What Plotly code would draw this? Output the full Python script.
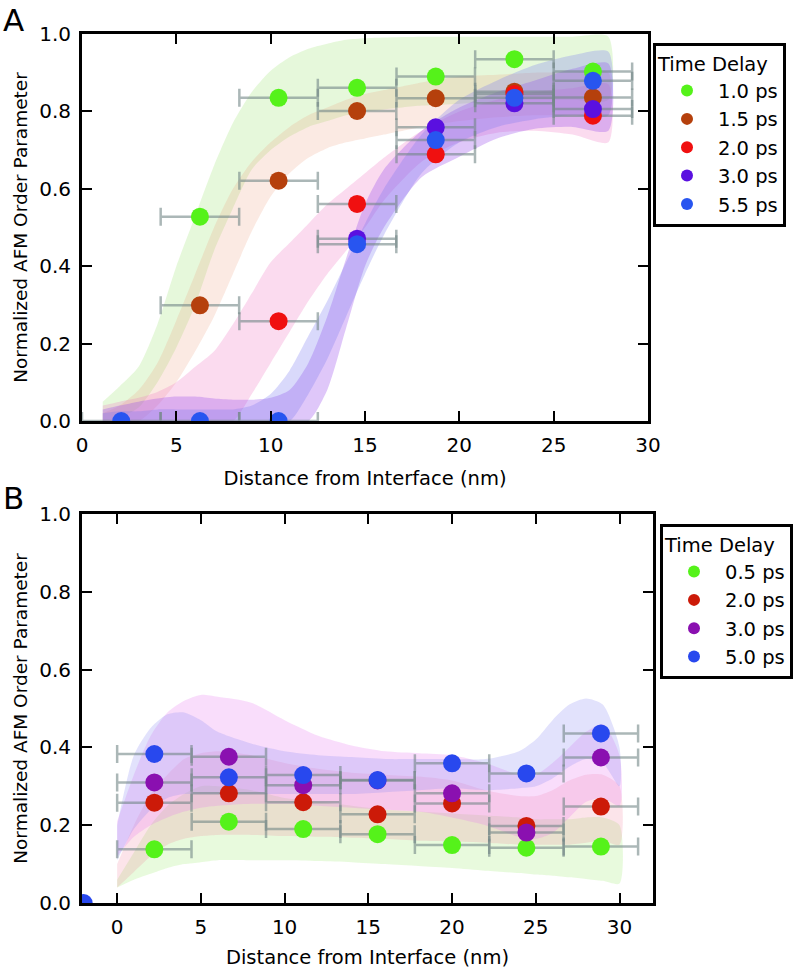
import plotly.graph_objects as go

FONT = "DejaVu Sans"
W, H = 793, 969

# ---------------- Panel A data ----------------
A_X = [2.08, 6.25, 10.42, 14.58, 18.75, 22.92, 27.08]
A_XERR = 2.08
A_LABELS = ["1.0 ps", "1.5 ps", "2.0 ps", "3.0 ps", "5.5 ps"]
A_COLORS = ["#55f21a", "#b5400c", "#f01010", "#5a10e0", "#2855f0"]
A_BAND_COLORS = ["rgba(140,225,90,0.22)", "rgba(235,150,115,0.2)",
                 "rgba(240,110,190,0.25)", "rgba(150,70,235,0.3)",
                 "rgba(120,120,240,0.28)"]
A_Y_10 = [None, 0.528, 0.835, 0.861, 0.890, 0.935, 0.903]
A_Y_15 = [None, 0.299, 0.621, 0.801, 0.834, 0.851, 0.836]
A_Y_20 = [None, None, 0.258, 0.561, 0.689, 0.845, 0.789]
A_Y_30 = [None, None, None, 0.471, 0.759, 0.821, 0.806]
A_Y_55 = [0.0, 0.0, 0.0, 0.457, 0.726, 0.835, 0.879]

A_BX = [1.1, 2, 3, 4, 5, 6, 7, 8, 9, 10, 11, 12, 13, 14, 15, 16, 18, 20, 22, 24, 26, 27.9]
A_LO_10 = [0.0, 0.01, 0.035, 0.10, 0.19, 0.30, 0.44, 0.55, 0.65, 0.70, 0.735, 0.76, 0.775, 0.79, 0.80, 0.805, 0.815, 0.82, 0.825, 0.83, 0.83, 0.83]
A_HI_10 = [0.05, 0.09, 0.14, 0.25, 0.40, 0.53, 0.66, 0.77, 0.85, 0.905, 0.94, 0.962, 0.975, 0.985, 0.989, 0.991, 0.993, 0.993, 0.993, 0.993, 0.993, 0.993]
A_LO_15 = [0.0, 0.0, 0.0, 0.04, 0.10, 0.18, 0.27, 0.38, 0.49, 0.58, 0.64, 0.68, 0.705, 0.72, 0.73, 0.74, 0.76, 0.775, 0.785, 0.79, 0.79, 0.79]
A_HI_15 = [0.02, 0.04, 0.08, 0.15, 0.26, 0.38, 0.50, 0.60, 0.67, 0.72, 0.76, 0.79, 0.81, 0.83, 0.845, 0.855, 0.875, 0.89, 0.895, 0.90, 0.90, 0.90]
A_LO_20 = [0.0, 0.0, 0.0, 0.0, 0.0, 0.0, 0.0, 0.0, 0.07, 0.15, 0.23, 0.31, 0.38, 0.44, 0.50, 0.57, 0.67, 0.72, 0.745, 0.75, 0.74, 0.72]
A_HI_20 = [0.04, 0.05, 0.06, 0.075, 0.10, 0.14, 0.18, 0.25, 0.33, 0.41, 0.46, 0.51, 0.56, 0.60, 0.64, 0.68, 0.75, 0.80, 0.83, 0.85, 0.86, 0.87]
A_LO_30 = [0.0, 0.0, 0.0, 0.0, 0.0, 0.0, 0.0, 0.0, 0.0, 0.0, 0.0, 0.0, 0.08, 0.24, 0.40, 0.50, 0.63, 0.683, 0.73, 0.755, 0.76, 0.75]
A_HI_30 = [0.03, 0.04, 0.05, 0.058, 0.063, 0.063, 0.058, 0.055, 0.055, 0.06, 0.08, 0.15, 0.27, 0.42, 0.56, 0.65, 0.75, 0.81, 0.85, 0.88, 0.91, 0.924]
A_LO_55 = [0.0, 0.0, 0.0, 0.0, 0.0, 0.0, 0.0, 0.0, 0.0, 0.0, 0.0, 0.07, 0.16, 0.27, 0.38, 0.48, 0.64, 0.72, 0.76, 0.78, 0.79, 0.79]
A_HI_55 = [0.02, 0.025, 0.025, 0.03, 0.03, 0.03, 0.03, 0.03, 0.04, 0.07, 0.13, 0.22, 0.31, 0.41, 0.51, 0.60, 0.74, 0.83, 0.88, 0.92, 0.945, 0.954]

# ---------------- Panel B data ----------------
B_X = [2.22, 6.67, 11.11, 15.55, 20.0, 24.44, 28.89]
B_XERR = 2.22
B_LABELS = ["0.5 ps", "2.0 ps", "3.0 ps", "5.0 ps"]
B_COLORS = ["#55f21a", "#cc1a08", "#8a10b0", "#2848ee"]
B_BAND_COLORS = ["rgba(150,230,100,0.22)", "rgba(240,120,150,0.2)",
                 "rgba(230,120,240,0.25)", "rgba(140,140,245,0.25)"]
B_Y_05 = [0.138, 0.209, 0.190, 0.177, 0.149, 0.142, 0.145]
B_Y_20 = [0.258, 0.282, 0.259, 0.228, 0.256, 0.198, 0.248]
B_Y_30 = [0.310, 0.376, 0.303, 0.315, 0.282, 0.181, 0.374]
B_Y_50 = [0.383, 0.323, 0.329, 0.316, 0.359, 0.333, 0.436]
B_EXTRA_X = [-2.0]
B_EXTRA_Y = [0.0]

B_BX = [0, 1, 2, 3, 4, 5, 6, 8, 10, 12, 14, 16, 18, 20, 22, 24, 25, 26, 27, 28, 29, 30]
B_LO_05 = [0.04, 0.06, 0.075, 0.09, 0.10, 0.105, 0.11, 0.11, 0.11, 0.108, 0.105, 0.10, 0.095, 0.09, 0.083, 0.077, 0.073, 0.07, 0.066, 0.062, 0.057, 0.05]
B_HI_05 = [0.06, 0.13, 0.20, 0.25, 0.28, 0.30, 0.30, 0.29, 0.27, 0.26, 0.25, 0.24, 0.235, 0.23, 0.225, 0.22, 0.215, 0.215, 0.215, 0.22, 0.22, 0.20]
B_LO_20 = [0.04, 0.08, 0.12, 0.15, 0.165, 0.172, 0.175, 0.175, 0.172, 0.17, 0.168, 0.165, 0.16, 0.158, 0.155, 0.15, 0.15, 0.15, 0.15, 0.155, 0.16, 0.15]
B_HI_20 = [0.10, 0.20, 0.28, 0.33, 0.37, 0.385, 0.39, 0.38, 0.36, 0.345, 0.335, 0.33, 0.325, 0.315, 0.29, 0.275, 0.275, 0.29, 0.315, 0.33, 0.33, 0.30]
B_LO_30 = [0.12, 0.17, 0.20, 0.22, 0.235, 0.245, 0.25, 0.255, 0.255, 0.25, 0.245, 0.24, 0.235, 0.22, 0.20, 0.17, 0.165, 0.18, 0.22, 0.26, 0.27, 0.25]
B_HI_30 = [0.21, 0.33, 0.43, 0.49, 0.52, 0.535, 0.53, 0.515, 0.47, 0.43, 0.405, 0.39, 0.385, 0.38, 0.36, 0.33, 0.33, 0.36, 0.40, 0.44, 0.46, 0.38]
B_LO_50 = [0.11, 0.19, 0.24, 0.27, 0.28, 0.28, 0.28, 0.28, 0.28, 0.28, 0.28, 0.285, 0.29, 0.295, 0.29, 0.295, 0.30, 0.32, 0.35, 0.37, 0.36, 0.30]
B_HI_50 = [0.20, 0.38, 0.45, 0.485, 0.49, 0.47, 0.44, 0.41, 0.39, 0.38, 0.375, 0.37, 0.37, 0.37, 0.37, 0.39, 0.42, 0.47, 0.51, 0.526, 0.51, 0.40]

Y_TICKS = [0.0, 0.2, 0.4, 0.6, 0.8, 1.0]
X_TICKS = [0, 5, 10, 15, 20, 25, 30]

ERR_COLOR = "rgba(115,135,135,0.6)"

fig = go.Figure()


def add_band(xs, lo, hi, color, xa, ya):
    fig.add_trace(go.Scatter(
        x=list(xs) + list(xs)[::-1], y=list(lo) + list(hi)[::-1],
        fill="toself", fillcolor=color, mode="lines",
        line=dict(width=0, shape="spline", smoothing=0.7),
        hoverinfo="skip", showlegend=False, xaxis=xa, yaxis=ya))


def add_points(xs, ys, err, color, name, xa, ya, legend):
    fig.add_trace(go.Scatter(
        x=xs, y=ys, mode="markers", name=name,
        marker=dict(size=18, color=color, line=dict(width=0)),
        error_x=dict(type="constant", value=err, color=ERR_COLOR,
                     thickness=2.5, width=9),
        xaxis=xa, yaxis=ya, legend=legend))


# Panel A
for lo, hi, c in zip([A_LO_10, A_LO_15, A_LO_20, A_LO_30, A_LO_55],
                     [A_HI_10, A_HI_15, A_HI_20, A_HI_30, A_HI_55],
                     A_BAND_COLORS):
    add_band(A_BX, lo, hi, c, "x", "y")
for ys, c, n in zip([A_Y_10, A_Y_15, A_Y_20, A_Y_30, A_Y_55], A_COLORS, A_LABELS):
    add_points(A_X, ys, A_XERR, c, n, "x", "y", "legend")

# Panel B
for lo, hi, c in zip([B_LO_05, B_LO_20, B_LO_30, B_LO_50],
                     [B_HI_05, B_HI_20, B_HI_30, B_HI_50],
                     B_BAND_COLORS):
    add_band(B_BX, lo, hi, c, "x2", "y2")
for ys, c, n in zip([B_Y_05, B_Y_20, B_Y_30, B_Y_50], B_COLORS, B_LABELS):
    add_points(B_X, ys, B_XERR, c, n, "x2", "y2", "legend2")
fig.add_trace(go.Scatter(x=B_EXTRA_X, y=B_EXTRA_Y, mode="markers",
                         marker=dict(size=18, color=B_COLORS[3]),
                         showlegend=False, xaxis="x2", yaxis="y2"))

TICK_SIZE = 20
XTITLE_SIZE = 19.5
YTITLE_SIZE = 18.5
LEG_SIZE = 19.5

axis_common = dict(showline=True, linewidth=3, linecolor="black", mirror="ticks",
                   ticks="inside", ticklen=10, tickwidth=2, tickcolor="black",
                   showgrid=False, zeroline=False, automargin=False,
                   ticklabelstandoff=4,
                   tickfont=dict(family=FONT, size=TICK_SIZE, color="black"))

TITLE_X = "Distance from Interface (nm)"
TITLE_Y = "Normalized AFM Order Parameter"

legend_common = dict(xanchor="left", yanchor="top",
                     bordercolor="black", borderwidth=3, bgcolor="white",
                     title=dict(text="Time Delay", font=dict(family=FONT, size=LEG_SIZE)),
                     font=dict(family=FONT, size=LEG_SIZE), itemsizing="constant",
                     itemwidth=52, tracegroupgap=0)

fig.update_layout(
    width=W, height=H, margin=dict(l=0, r=0, t=0, b=0, autoexpand=False),
    paper_bgcolor="white", plot_bgcolor="white",
    font=dict(family=FONT, size=TICK_SIZE, color="black"),
    xaxis=dict(domain=[82 / W, 648 / W], range=[0, 30], tickvals=X_TICKS,
               anchor="y", title=dict(text=TITLE_X, font=dict(size=XTITLE_SIZE), standoff=16),
               **axis_common),
    yaxis=dict(domain=[1 - 421 / H, 1 - 34 / H], range=[0, 1.0], tickvals=Y_TICKS,
               tickformat=".1f", anchor="x",
               title=dict(text=TITLE_Y, font=dict(size=YTITLE_SIZE), standoff=7),
               **axis_common),
    xaxis2=dict(domain=[82 / W, 653 / W], range=[-2.1, 32], tickvals=X_TICKS,
                anchor="y2", title=dict(text=TITLE_X, font=dict(size=XTITLE_SIZE), standoff=17),
                **axis_common),
    yaxis2=dict(domain=[1 - 903 / H, 1 - 514 / H], range=[0, 1.0], tickvals=Y_TICKS,
                tickformat=".1f", anchor="x2",
                title=dict(text=TITLE_Y, font=dict(size=YTITLE_SIZE), standoff=7),
                **axis_common),
    legend=dict(x=653 / W, y=1 - 43 / H, **legend_common),
    legend2=dict(x=660 / W, y=1 - 524 / H, **legend_common),
    annotations=[
        dict(text="A", x=1 / W, y=1.0, xref="paper", yref="paper",
             xanchor="left", yanchor="top", showarrow=False,
             font=dict(family=FONT, size=31, color="black")),
        dict(text="B", x=1 / W, y=1 - 478 / H, xref="paper", yref="paper",
             xanchor="left", yanchor="top", showarrow=False,
             font=dict(family=FONT, size=31, color="black")),
    ],
)

fig.write_html("out.html",
               config={"displayModeBar": False},
               post_script="document.body.style.margin='0';"
                           "document.body.style.overflow='hidden';")
